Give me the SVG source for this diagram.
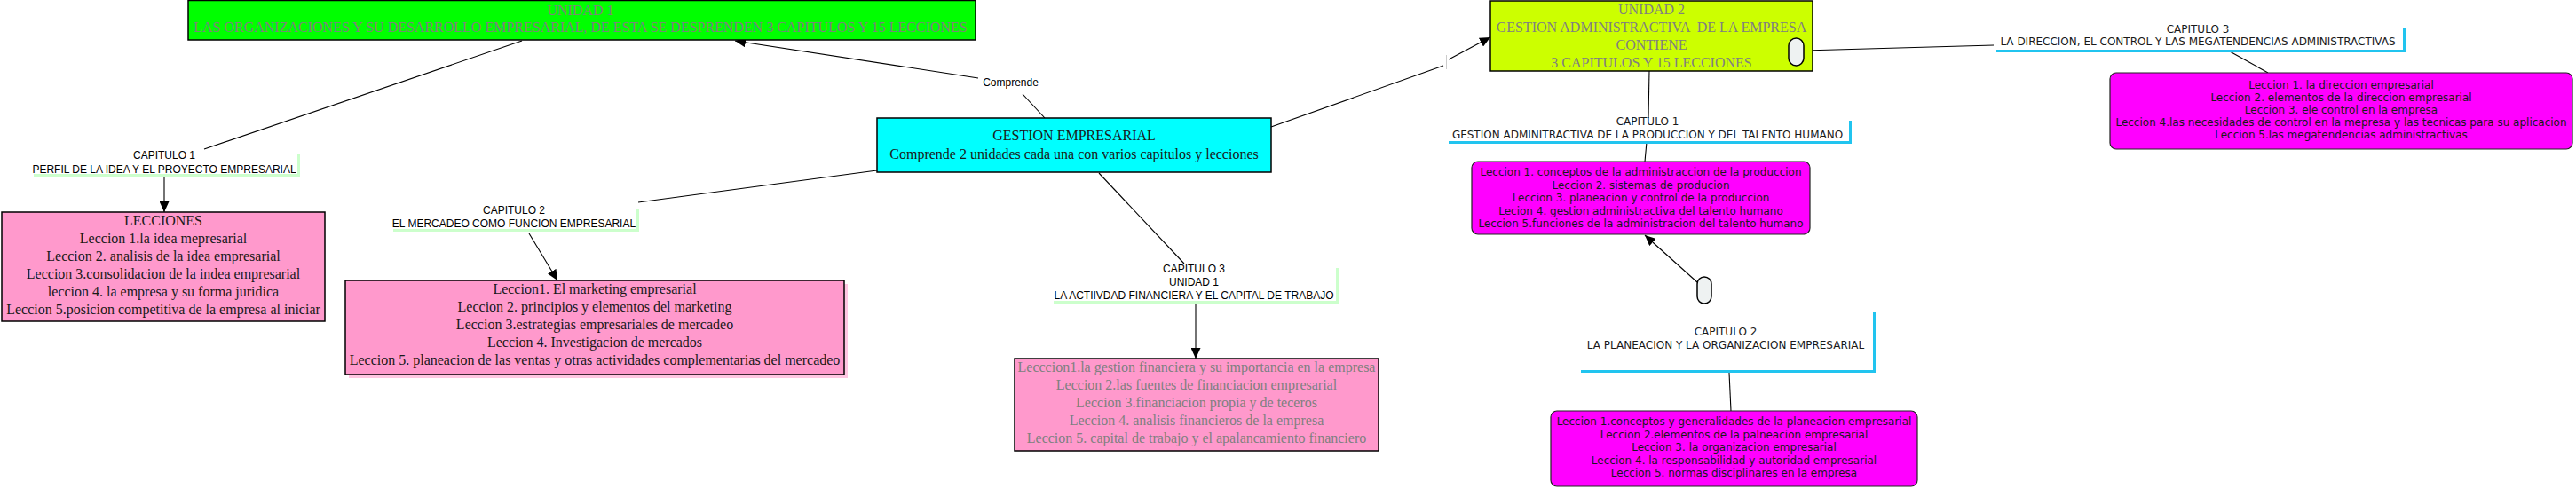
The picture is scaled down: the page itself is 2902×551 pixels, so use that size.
<svg xmlns="http://www.w3.org/2000/svg" width="2902" height="551" viewBox="0 0 2902 551">
<defs>
<style>
.bg{fill:#ffffff}
.box{stroke:#000;stroke-width:1.5}
.green{fill:#00ff00}
.cyan{fill:#00ffff}
.lime{fill:#ccff00}
.pink{fill:#ff99cc}
.pinkshadow{fill:#ffc6e2}
.mag{fill:#ff00ff;stroke:#222;stroke-width:1.2}
.pill{fill:#eef2f2;stroke:#000;stroke-width:1.5}
.lshadow{fill:#ccffcc}
.bshadow{fill:#21c4ef}
.lblbg{fill:#ffffff}
.serif{font-family:"Liberation Serif","Times New Roman",serif;font-size:16px;text-anchor:middle;fill:#1a1a1a}
.gray{fill:#808080}
.sans{font-family:"Liberation Sans",Arial,sans-serif;font-size:12px;text-anchor:middle;fill:#000}
.verd{font-family:"DejaVu Sans",Verdana,sans-serif;font-size:12px;text-anchor:middle;fill:#1a1a1a}
.ln{stroke:#000;stroke-width:1.1;fill:none}
.arr{marker-end:url(#ah)}
</style>
<marker id="ah" markerUnits="userSpaceOnUse" markerWidth="12" markerHeight="11" viewBox="0 0 12 11" refX="12" refY="5.5" orient="auto">
<path d="M0,0 L12,5.5 L0,11 z" fill="#000"/>
</marker>
</defs>
<rect class="bg" x="0" y="0" width="2902" height="551"/>

<g id="connectors">
<path class="ln" d="M588,46 L230,168"/>
<path class="ln arr" d="M1102,88 L828,46"/>
<path class="ln" d="M1152,106 L1177,133"/>
<path class="ln" d="M988,192 L719,228"/>
<path class="ln arr" d="M596,263 L628,316"/>
<path class="ln arr" d="M185,200 L185,239"/>
<path class="ln" d="M1238,195 L1334,297"/>
<path class="ln arr" d="M1347,343 L1347,404"/>
<path class="ln" d="M1432,143 L1626,74"/>
<path class="ln arr" d="M1632,67 L1679,42"/>
<path class="ln" d="M1858,80 L1857,133"/>
<path class="ln" d="M1855,160 L1853,182"/>
<path class="ln" d="M2032,57 L2246,51"/>
<path class="ln" d="M2512,58 L2555,82"/>
<path class="ln arr" d="M1912,318 L1853,265"/>
<path class="ln" d="M1948,420 L1950,463"/>
</g>

<g id="link-empty">
<line x1="1629.5" y1="62" x2="1629.5" y2="78" stroke="#cccccc" stroke-width="1"/>
</g>

<g id="n-unidad1">
<rect class="box green" x="212" y="0.5" width="887" height="44.5"/>
<text class="serif gray" x="654" y="16.5">UNIDAD 1</text>
<text class="serif gray" x="654" y="36">LAS ORGANIZACIONES Y SU DESARROLLO EMPRESARIAL, DE ESTA SE DESPRENDEN 3 CAPITULOS Y 15 LECCIONES</text>
</g>

<g id="n-comprende">
<text class="sans" x="1138.5" y="97">Comprende</text>
</g>

<g id="n-gestion">
<rect class="box cyan" x="988" y="133" width="444" height="61"/>
<text class="serif" x="1210" y="158">GESTION EMPRESARIAL</text>
<text class="serif" x="1210" y="179">Comprende 2 unidades cada una con varios capitulos y lecciones</text>
</g>

<g id="n-cap1-u1">
<rect class="lshadow" x="38" y="174" width="300" height="25"/>
<rect class="lblbg" x="35" y="171" width="300" height="25"/>
<text class="sans" x="185" y="179">CAPITULO 1</text>
<text class="sans" x="185" y="195">PERFIL DE LA IDEA Y EL PROYECTO EMPRESARIAL</text>
</g>

<g id="n-lecciones">
<rect class="box pink" x="2" y="239" width="364" height="123"/>
<text class="serif" x="184" y="254">LECCIONES</text>
<text class="serif" x="184" y="274">Leccion 1.la idea mepresarial</text>
<text class="serif" x="184" y="294">Leccion 2. analisis de la idea empresarial</text>
<text class="serif" x="184" y="314">Leccion 3.consolidacion de la indea empresarial</text>
<text class="serif" x="184" y="334">leccion 4. la empresa y su forma juridica</text>
<text class="serif" x="184" y="354">Leccion 5.posicion competitiva de la empresa al iniciar</text>
</g>

<g id="n-cap2-u1">
<rect class="lshadow" x="443" y="235" width="277" height="26"/>
<rect class="lblbg" x="440" y="232" width="277" height="26"/>
<text class="sans" x="579" y="241">CAPITULO 2</text>
<text class="sans" x="579" y="256">EL MERCADEO COMO FUNCION EMPRESARIAL</text>
</g>

<g id="n-marketing">
<rect class="pinkshadow" x="393" y="320" width="562" height="106"/>
<rect class="box pink" x="389" y="316" width="562" height="106"/>
<text class="serif" x="670" y="331">Leccion1. El marketing empresarial</text>
<text class="serif" x="670" y="351">Leccion 2. principios y elementos del marketing</text>
<text class="serif" x="670" y="371">Leccion 3.estrategias empresariales de mercadeo</text>
<text class="serif" x="670" y="391">Leccion 4. Investigacion de mercados</text>
<text class="serif" x="670" y="411">Leccion 5. planeacion de las ventas y otras actividades complementarias del mercadeo</text>
</g>

<g id="n-cap3-u1">
<rect class="lshadow" x="1187" y="302" width="321" height="40"/>
<rect class="lblbg" x="1184" y="299" width="321" height="40"/>
<text class="sans" x="1345" y="307">CAPITULO 3</text>
<text class="sans" x="1345" y="322">UNIDAD 1</text>
<text class="sans" x="1345" y="337">LA ACTIIVDAD FINANCIERA Y EL CAPITAL DE TRABAJO</text>
</g>

<g id="n-finanzas">
<rect class="box pink" x="1143" y="404" width="410" height="104"/>
<text class="serif gray" x="1348" y="419">Lecccion1.la gestion financiera y su importancia en la empresa</text>
<text class="serif gray" x="1348" y="439">Leccion 2.las fuentes de financiacion empresarial</text>
<text class="serif gray" x="1348" y="459">Leccion 3.financiacion propia y de teceros</text>
<text class="serif gray" x="1348" y="479">Leccion 4. analisis financieros de la empresa</text>
<text class="serif gray" x="1348" y="499">Leccion 5. capital de trabajo y el apalancamiento financiero</text>
</g>

<g id="n-unidad2">
<rect class="box lime" x="1679" y="1" width="363" height="79"/>
<text class="serif gray" x="1860.5" y="16">UNIDAD 2</text>
<text class="serif gray" x="1860.5" y="36" xml:space="preserve">GESTION ADMINISTRACTIVA  DE LA EMPRESA</text>
<text class="serif gray" x="1860.5" y="56">CONTIENE</text>
<text class="serif gray" x="1860.5" y="76">3 CAPITULOS Y 15 LECCIONES</text>
</g>

<g id="link-pill-1">
<rect class="pill" x="2015" y="43" width="17" height="31" rx="8.5"/>
</g>

<g id="n-cap3-u2">
<rect class="bshadow" x="2249" y="32" width="461" height="27"/>
<rect class="lblbg" x="2246" y="29" width="461" height="27"/>
<text class="verd" x="2476" y="37">CAPITULO 3</text>
<text class="verd" x="2476" y="51">LA DIRECCION, EL CONTROL Y LAS MEGATENDENCIAS ADMINISTRACTIVAS</text>
</g>

<g id="n-direccion">
<rect class="mag" x="2377" y="82" width="521" height="86" rx="7"/>
<text class="verd" x="2637.5" y="100">Leccion 1. la direccion empresarial</text>
<text class="verd" x="2637.5" y="114">Leccion 2. elementos de la direccion empresarial</text>
<text class="verd" x="2637.5" y="128">Leccion 3. ele control en la empresa</text>
<text class="verd" x="2637.5" y="142">Leccion 4.las necesidades de control en la mepresa y las tecnicas para su aplicacion</text>
<text class="verd" x="2637.5" y="156">Leccion 5.las megatendencias administractivas</text>
</g>

<g id="n-cap1-u2">
<rect class="bshadow" x="1632" y="136" width="454" height="26"/>
<rect class="lblbg" x="1629" y="133" width="454" height="26"/>
<text class="verd" x="1856" y="141">CAPITULO 1</text>
<text class="verd" x="1856" y="156">GESTION ADMINITRACTIVA DE LA PRODUCCION Y DEL TALENTO HUMANO</text>
</g>

<g id="n-produccion">
<rect class="mag" x="1658" y="182" width="381" height="82" rx="7"/>
<text class="verd" x="1848.5" y="198">Leccion 1. conceptos de la administraccion de la produccion</text>
<text class="verd" x="1848.5" y="212.5">Leccion 2. sistemas de producion</text>
<text class="verd" x="1848.5" y="227">Leccion 3. planeacion y control de la produccion</text>
<text class="verd" x="1848.5" y="241.5">Lecion 4. gestion administractiva del talento humano</text>
<text class="verd" x="1848.5" y="256">Leccion 5.funciones de la administracion del talento humano</text>
</g>

<g id="link-pill-2">
<rect class="pill" x="1912" y="312" width="16" height="30" rx="8"/>
</g>

<g id="n-cap2-u2">
<rect class="bshadow" x="1781" y="351" width="332" height="69"/>
<rect class="lblbg" x="1778" y="348" width="332" height="69"/>
<text class="verd" x="1944" y="378">CAPITULO 2</text>
<text class="verd" x="1944" y="393">LA PLANEACION Y LA ORGANIZACION EMPRESARIAL</text>
</g>

<g id="n-planeacion">
<rect class="mag" x="1747" y="463" width="413" height="85" rx="7"/>
<text class="verd" x="1953.5" y="479">Leccion 1.conceptos y generalidades de la planeacion empresarial</text>
<text class="verd" x="1953.5" y="494">Leccion 2.elementos de la palneacion empresarial</text>
<text class="verd" x="1953.5" y="508">Leccion 3. la organizacion empresarial</text>
<text class="verd" x="1953.5" y="523">Leccion 4. la responsabilidad y autoridad empresarial</text>
<text class="verd" x="1953.5" y="537">Leccion 5. normas disciplinares en la empresa</text>
</g>
</svg>
